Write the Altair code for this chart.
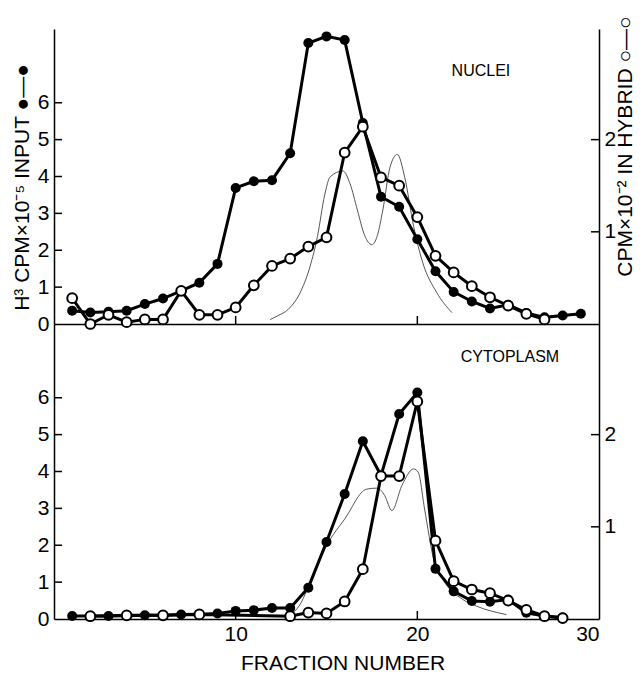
import altair as alt
import pandas as pd

# ---------------- data ----------------
# NUCLEI panel
top_input_frac = list(range(1, 30))
top_input = [0.36, 0.31, 0.33, 0.36, 0.54, 0.69, 0.90, 1.12, 1.63, 3.69,
             3.87, 3.90, 4.63, 7.62, 7.80, 7.70, 5.45, 3.45, 3.18, 2.30,
             1.43, 0.87, 0.61, 0.42, 0.52, 0.30, 0.18, 0.23, 0.28]
top_hybrid_frac = list(range(1, 28))
top_hybrid = [0.28, 0.00, 0.10, 0.02, 0.05, 0.05, 0.36, 0.10, 0.10, 0.18,
              0.42, 0.63, 0.71, 0.84, 0.94, 1.86, 2.14, 1.59, 1.50, 1.16,
              0.74, 0.56, 0.41, 0.29, 0.20, 0.11, 0.05]
top_curve_x = [11.9, 12.3, 12.9, 13.6, 14.1, 14.5, 14.9, 15.2, 15.9, 16.3,
               16.7, 17.1, 17.5, 17.8, 18.1, 18.5, 18.9, 19.3, 19.8, 20.3,
               21.07, 21.9]
top_curve_y = [0.12, 0.22, 0.40, 0.90, 1.57, 2.37, 3.50, 3.99, 4.15, 3.80,
               3.09, 2.40, 2.15, 2.40, 3.09, 4.26, 4.60, 3.99, 2.64, 1.66,
               0.85, 0.31]

# CYTOPLASM panel
bot_input_frac = list(range(1, 29))
bot_input = [0.08, 0.08, 0.08, 0.09, 0.10, 0.10, 0.12, 0.13, 0.15, 0.22,
             0.24, 0.30, 0.30, 0.85, 2.09, 3.39, 4.82, 3.89, 5.56, 6.14,
             1.36, 0.75, 0.49, 0.47, 0.53, 0.17, 0.08, 0.04]
bot_hybrid_frac = [2, 4, 6, 8, 13, 14, 15, 16, 17, 18, 19, 20, 21, 22, 23,
                   24, 25, 26, 27, 28]
bot_hybrid = [0.03, 0.04, 0.04, 0.05, 0.03, 0.07, 0.06, 0.19, 0.54, 1.55,
              1.55, 2.36, 0.85, 0.41, 0.32, 0.28, 0.20, 0.10, 0.03, 0.01]
bot_curve_x = [13.0, 13.6, 14.1, 15.05, 16.0, 17.2, 17.8, 18.2, 18.6, 19.15,
               19.8, 20.05, 20.4, 20.9, 21.4, 22.5, 23.25, 24.9]
bot_curve_y = [0.10, 0.44, 1.00, 2.03, 2.71, 3.52, 3.55, 3.35, 2.94, 3.62,
               4.07, 3.98, 2.98, 1.62, 1.08, 0.53, 0.35, 0.12]

left_tick_values = [1, 2, 3, 4, 5, 6]
left_label_values = [0, 1, 2, 3, 4, 5, 6]
right_tick_values = [1, 2]
x_tick_values = [10, 20]
x_label_values = [10, 20, 30]

LEFT_TITLE = "H³ CPM×10⁻⁵ INPUT ●—●"
RIGHT_TITLE = "CPM×10⁻² IN HYBRID ○—○"

# ---------------- layout / style ----------------
W = 545
H = 295
FONT = "Liberation Sans"
TICK = 8

x_scale = alt.Scale(domain=[0, 30], nice=False, zero=False)
left_scale = alt.Scale(domain=[0, 8], nice=False)
right_scale = alt.Scale(domain=[0, 3.2], nice=False)


def panel(in_frac, in_vals, hy_frac, hy_vals, cx, cy, label, label_pos, top):
    df_in = pd.DataFrame({"fraction": in_frac, "v": in_vals})
    df_hy = pd.DataFrame({"fraction": hy_frac, "v": hy_vals})
    df_cv = pd.DataFrame({"fraction": cx, "v": cy})
    df_lab = pd.DataFrame({"fraction": [label_pos[0]], "v": [label_pos[1]], "t": [label]})

    if top:
        x_axis = alt.Axis(values=x_label_values, labels=False, ticks=False,
                          domain=True, grid=False, title=None,
                          minExtent=0, maxExtent=0)
        l_axis = alt.Axis(values=left_label_values, ticks=False, grid=False,
                          title=LEFT_TITLE, titleY=158, titleAlign="center",
                          titlePadding=5, labelPadding=5, titleFontSize=21)
        r_axis = alt.Axis(orient="right", values=right_tick_values, ticks=False,
                          grid=False, title=RIGHT_TITLE, titleAngle=270,
                          titleY=117, titleX=26, titleBaseline="middle",
                          titleAlign="center", labelPadding=5, titleFontSize=21)
    else:
        x_axis = alt.Axis(values=x_label_values, labels=True, ticks=False,
                          domain=True, grid=False, title="FRACTION NUMBER",
                          labelPadding=4, titlePadding=8, titleFontSize=21,
                          titleX=W / 2 + 16)
        l_axis = alt.Axis(values=left_label_values, ticks=False, grid=False,
                          title=None, labelPadding=5)
        r_axis = alt.Axis(orient="right", values=right_tick_values, ticks=False,
                          grid=False, title=None, labelPadding=5)

    X = lambda: alt.X("fraction:Q", scale=x_scale, axis=x_axis)
    YL = lambda: alt.Y("v:Q", scale=left_scale, axis=l_axis)
    YR = lambda: alt.Y("v:Q", scale=right_scale, axis=r_axis)

    curve = alt.Chart(df_cv).mark_line(
        color="#555555", strokeWidth=1, interpolate="monotone"
    ).encode(x=X(), y=YL())
    in_line = alt.Chart(df_in).mark_line(color="black", strokeWidth=3).encode(x=X(), y=YL())
    in_pts = alt.Chart(df_in).mark_point(
        filled=True, color="black", size=100, opacity=1
    ).encode(x=X(), y=YL())
    lticks = alt.Chart(pd.DataFrame({"v": left_tick_values})).mark_rule(
        color="black", strokeWidth=1.5
    ).encode(y=YL(), x=alt.value(0), x2=alt.value(TICK))
    xticks = alt.Chart(pd.DataFrame({"fraction": x_tick_values})).mark_rule(
        color="black", strokeWidth=1.5
    ).encode(x=X(), y=alt.value(H), y2=alt.value(H - TICK))
    lab = alt.Chart(df_lab).mark_text(
        font=FONT, fontSize=16, color="black"
    ).encode(x=X(), y=YL(), text="t:N")

    left_layer = alt.layer(curve, in_line, in_pts, lticks, xticks, lab)

    hy_line = alt.Chart(df_hy).mark_line(color="black", strokeWidth=3).encode(x=X(), y=YR())
    hy_pts = alt.Chart(df_hy).mark_point(
        filled=True, fill="white", stroke="black", strokeWidth=2, size=95, opacity=1
    ).encode(x=X(), y=YR())
    rticks = alt.Chart(pd.DataFrame({"v": right_tick_values})).mark_rule(
        color="black", strokeWidth=1.5
    ).encode(y=YR(), x=alt.value(W - TICK), x2=alt.value(W))

    right_layer = alt.layer(hy_line, hy_pts, rticks)

    return alt.layer(left_layer, right_layer).resolve_scale(y="independent").properties(
        width=W, height=H
    )


top_panel = panel(top_input_frac, top_input, top_hybrid_frac, top_hybrid,
                  top_curve_x, top_curve_y, "NUCLEI", (23.5, 6.85), True)
bot_panel = panel(bot_input_frac, bot_input, bot_hybrid_frac, bot_hybrid,
                  bot_curve_x, bot_curve_y, "CYTOPLASM", (25.1, 7.1), False)

chart = alt.vconcat(top_panel, bot_panel, spacing=0, bounds="flush").properties(
    padding={"left": 3, "top": 7, "right": 0, "bottom": 0}
).configure_view(stroke=None).configure_axis(
    domainColor="black", domainWidth=1.5,
    labelFont=FONT, labelFontSize=21, labelColor="black",
    titleFont=FONT, titleFontSize=19, titleFontWeight="normal", titleColor="black",
)

chart.save("out.html", embed_options={"renderer": "svg", "actions": False})
